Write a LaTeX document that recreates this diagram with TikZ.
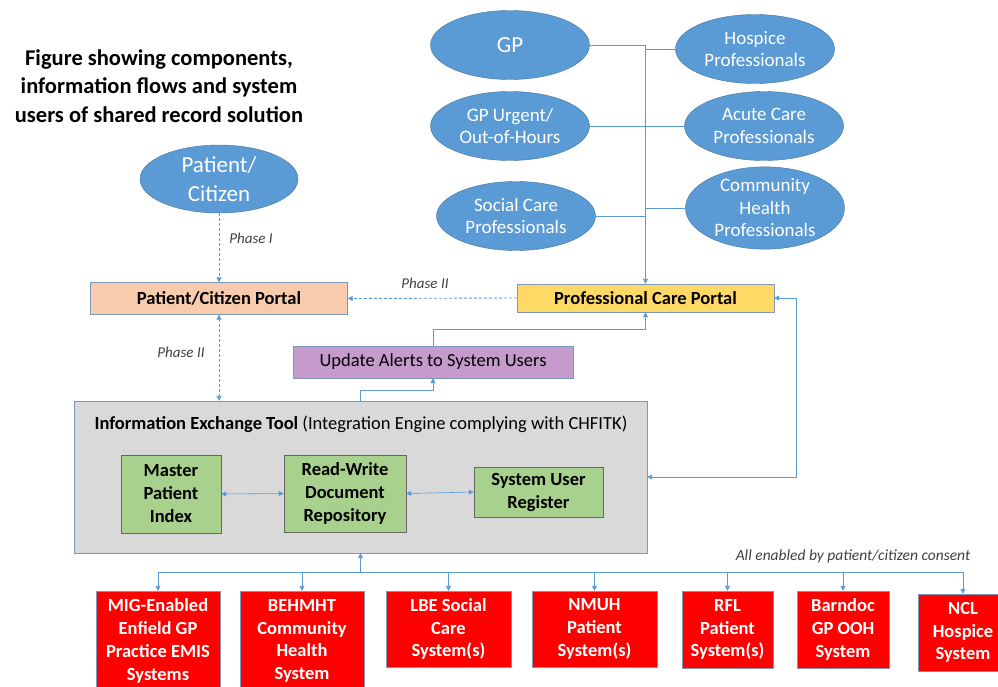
\documentclass[tikz,border=0pt]{standalone}
\usepackage{fontspec}
\setmainfont{Carlito}
\usetikzlibrary{
    arrows.meta,
    calc,
    shapes.geometric
}
\definecolor{ellblue}{HTML}{5B9BD5}
\definecolor{ellline}{HTML}{41719C}
\definecolor{peach}{HTML}{F8CBAD}
\definecolor{gold}{HTML}{FFD966}
\definecolor{lilac}{HTML}{C59BCC}
\definecolor{toolgrey}{HTML}{D9D9D9}
\definecolor{leaf}{HTML}{A9D18E}
\definecolor{sysred}{HTML}{FF0000}
\definecolor{edge}{HTML}{7F97B8}
\definecolor{labelgrey}{HTML}{404040}

\begin{document}
\begin{tikzpicture}[x=1pt,y=-1pt,
    >={Triangle[width=5pt,length=5pt]},
    user/.style={ellipse,draw=ellline,fill=ellblue,text=white,inner sep=0pt,
        minimum width=159pt,minimum height=69pt,align=center,
        font=\fontsize{19}{22.5}\selectfont},
    portal/.style={draw=edge,inner sep=0pt,minimum width=257pt,
        font=\bfseries\fontsize{18.5}{21}\selectfont},
    comp/.style={draw=gray!80!black,fill=leaf,inner sep=0pt,align=center,
        font=\bfseries\fontsize{18.5}{23}\selectfont},
    system/.style={draw=edge,fill=sysred,text=white,inner sep=0pt,align=center,
        font=\bfseries\fontsize{18.5}{22.8}\selectfont},
    phase/.style={text=labelgrey,font=\itshape\fontsize{15}{17}\selectfont},
    link/.style={draw=ellblue,line width=0.9pt},
    optional/.style={link,dash pattern=on 3pt off 2pt}
]
\useasboundingbox (0,0) rectangle (998,686);

% Title
\node[align=center,font=\bfseries\fontsize{22.5}{28.5}\selectfont] (title) at (159,86)
    {Figure showing components,\\information flows and system\\users of shared record solution};

% System users
\node[user,minimum width=158pt,minimum height=68pt,font=\fontsize{23}{29}\selectfont] (pat) at (219,179) {Patient/\\Citizen};
\node[user,font=\fontsize{23}{26}\selectfont] (gp) at (510,45) {GP};
\node[user] (gpooh) at (510,126) {GP Urgent/\\Out-of-Hours};
\node[user] (soc) at (516,216) {Social Care\\Professionals};
\node[user] (hosp) at (755,49) {Hospice\\Professionals};
\node[user] (acute) at (764,126) {Acute Care\\Professionals};
\node[user] (comm) at (765,208) {Community\\Health\\Professionals};

% Portals
\node[portal,fill=peach,minimum height=32pt] (pcc) at (219,298.5) {Patient/Citizen Portal};
\node[portal,fill=gold,minimum height=28pt] (pcp) at (645.5,298) {Professional Care Portal};
\node[draw=edge,fill=lilac,inner sep=0pt,minimum width=280pt,minimum height=32pt,
    font=\fontsize{18.5}{21}\selectfont] (ual) at (433,362) {Update Alerts to System Users};

% Information exchange tool
\node[draw=edge,fill=toolgrey,minimum width=573pt,minimum height=152pt] (iet) at (360.5,477) {};
\node[font=\fontsize{18.5}{21}\selectfont] (iettitle) at (361,424)
    {\textbf{Information Exchange Tool} (Integration Engine complying with CHFITK)};
\node[comp,minimum width=100pt,minimum height=78pt] (mpi) at (171,494) {Master\\Patient\\Index};
\node[comp,minimum width=122pt,minimum height=77pt] (rwd) at (345,493.5) {Read-Write\\Document\\Repository};
\node[comp,minimum width=129pt,minimum height=50pt] (sur) at (538.5,492) {System User\\Register};

% Source systems
\node[system,minimum width=124pt,minimum height=100pt] (mig) at (158,641) {MIG-Enabled\\Enfield GP\\Practice EMIS\\Systems};
\node[system,minimum width=124pt,minimum height=100pt] (beh) at (302,641) {BEHMHT\\Community\\Health\\System};
\node[system,minimum width=125pt,minimum height=76pt] (lbe) at (448.5,629) {LBE Social\\Care\\System(s)};
\node[system,minimum width=125pt,minimum height=76pt] (nmuh) at (594.5,629) {NMUH\\Patient\\System(s)};
\node[system,minimum width=91pt,minimum height=77pt] (rfl) at (727.5,629.5) {RFL\\Patient\\System(s)};
\node[system,minimum width=92pt,minimum height=77pt] (barn) at (843,629.5) {Barndoc\\GP OOH\\System};
\node[system,minimum width=90pt,minimum height=77pt] (ncl) at (963,632.5) {NCL\\Hospice\\System};

% Labels
\node[phase] (ph1) at (251,238) {Phase I};
\node[phase] (ph2a) at (425,283) {Phase II};
\node[phase] (ph2b) at (181,352) {Phase II};
\node[phase,font=\itshape\fontsize{15.5}{18}\selectfont] (consent) at (853,556) {All enabled by patient/citizen consent};

% Professionals into the care portal
\draw[link] (gp.east) -- (gp.east -| pcp.north);
\draw[link,->] (gp.east -| pcp.north) -- (pcp.north);
\foreach \u in {gpooh,soc}
    \draw[link] (\u.east) -- (\u.east -| pcp.north);
\foreach \u in {hosp,acute,comm}
    \draw[link] (\u.west) -- (\u.west -| pcp.north);

% Patient side (phased)
\draw[optional,->] (pat.south) -- (pcc.north);
\draw[optional,->] (pcp.west) -- (pcc.east);
\draw[optional,<->] (pcc.south) -- (pcc.south |- iet.north);

% Alerts
\draw[link,->] (iet.north) -- ++(0,-10) -| (ual.south);
\draw[link,->] (ual.north) -- ++(0,-16) -| (pcp.south);
\draw[link,<->] (pcp.east) -- ++(22,0) |- (iet.east);

% Inside the tool
\draw[link,line width=0.6pt,<->] (mpi.east) -- (rwd.west);
\draw[link,line width=0.6pt,<->] (rwd.east) -- (sur.west);

% Feeds from source systems
\coordinate (bus) at (iet.south |- 0,572);
\draw[link,->] (bus) -- (iet.south);
\foreach \s in {mig,beh,lbe,nmuh,rfl,barn,ncl}
    \draw[link,->] (bus) -| (\s.north);

\end{tikzpicture}
\end{document}
